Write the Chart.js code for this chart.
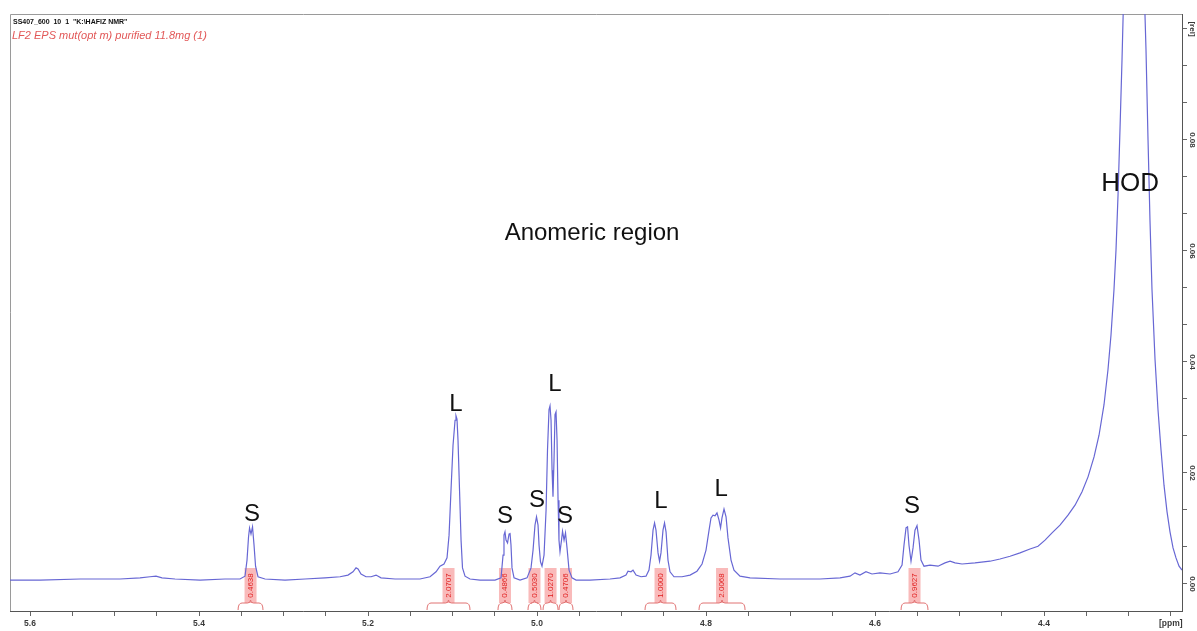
<!DOCTYPE html>
<html>
<head>
<meta charset="UTF-8">
<title>SS407_600 - anomeric region</title>
<style>
  body { margin: 0; background: #fff; }
  #wrap { width: 1197px; height: 631px; }
</style>
</head>
<body>
<div id="wrap"><canvas id="spec" width="1197" height="631"></canvas></div>
<script src="https://cdn.jsdelivr.net/npm/chart.js"></script>
<script>
// 1H trace, pairs of [shift (ppm), intensity (rel)]
const trace = [
  [5.6237,0.0007],[5.5882,0.0007],[5.5408,0.0009],[5.4935,0.0009],[5.4698,0.0011],[5.4580,0.0013],
  [5.4509,0.0014],[5.4438,0.0011],[5.4284,0.0009],[5.3988,0.0007],[5.3692,0.0009],[5.3515,0.0009],
  [5.3456,0.0014],[5.3432,0.0043],[5.3414,0.0085],[5.3402,0.0101],[5.3385,0.0090],[5.3367,0.0103],
  [5.3349,0.0070],[5.3331,0.0032],[5.3302,0.0013],[5.3219,0.0009],[5.2982,0.0007],[5.2746,0.0009],
  [5.2509,0.0011],[5.2331,0.0013],[5.2237,0.0016],[5.2178,0.0022],[5.2142,0.0029],[5.2118,0.0027],
  [5.2083,0.0018],[5.2024,0.0013],[5.1964,0.0013],[5.1905,0.0016],[5.1846,0.0011],[5.1680,0.0009],
  [5.1503,0.0009],[5.1385,0.0009],[5.1266,0.0013],[5.1195,0.0022],[5.1148,0.0032],[5.1101,0.0036],
  [5.1065,0.0047],[5.1041,0.0088],[5.1018,0.0169],[5.0994,0.0250],[5.0970,0.0295],[5.0959,0.0303],
  [5.0947,0.0297],[5.0935,0.0259],[5.0917,0.0169],[5.0899,0.0079],[5.0882,0.0029],[5.0852,0.0014],
  [5.0793,0.0009],[5.0675,0.0007],[5.0497,0.0007],[5.0426,0.0011],[5.0402,0.0052],[5.0391,0.0088],
  [5.0379,0.0094],[5.0367,0.0079],[5.0349,0.0074],[5.0331,0.0090],[5.0320,0.0092],[5.0308,0.0070],
  [5.0296,0.0029],[5.0272,0.0011],[5.0201,0.0007],[5.0118,0.0011],[5.0071,0.0029],[5.0047,0.0061],
  [5.0024,0.0106],[5.0006,0.0121],[4.9988,0.0106],[4.9976,0.0070],[4.9959,0.0040],[4.9941,0.0032],
  [4.9917,0.0052],[4.9893,0.0133],[4.9876,0.0241],[4.9858,0.0314],[4.9846,0.0321],[4.9834,0.0295],
  [4.9822,0.0205],[4.9811,0.0157],[4.9799,0.0223],[4.9787,0.0305],[4.9775,0.0310],[4.9763,0.0259],
  [4.9751,0.0151],[4.9740,0.0079],[4.9728,0.0058],[4.9710,0.0079],[4.9698,0.0095],[4.9680,0.0079],
  [4.9663,0.0092],[4.9645,0.0065],[4.9621,0.0025],[4.9586,0.0011],[4.9538,0.0007],[4.9373,0.0007],
  [4.9136,0.0009],[4.9018,0.0011],[4.8947,0.0016],[4.8923,0.0023],[4.8888,0.0022],[4.8864,0.0025],
  [4.8828,0.0016],[4.8769,0.0013],[4.8710,0.0014],[4.8675,0.0025],[4.8651,0.0052],[4.8627,0.0097],
  [4.8609,0.0110],[4.8592,0.0097],[4.8568,0.0056],[4.8550,0.0041],[4.8533,0.0056],[4.8509,0.0097],
  [4.8491,0.0110],[4.8473,0.0094],[4.8450,0.0043],[4.8426,0.0022],[4.8379,0.0013],[4.8284,0.0013],
  [4.8189,0.0016],[4.8107,0.0023],[4.8047,0.0036],[4.8000,0.0061],[4.7964,0.0097],[4.7941,0.0119],
  [4.7917,0.0124],[4.7893,0.0123],[4.7870,0.0128],[4.7846,0.0115],[4.7828,0.0101],[4.7811,0.0119],
  [4.7787,0.0135],[4.7763,0.0121],[4.7740,0.0083],[4.7704,0.0043],[4.7669,0.0025],[4.7598,0.0014],
  [4.7479,0.0011],[4.7124,0.0009],[4.6651,0.0009],[4.6414,0.0011],[4.6296,0.0014],[4.6237,0.0020],
  [4.6178,0.0016],[4.6107,0.0022],[4.6036,0.0018],[4.5941,0.0020],[4.5822,0.0018],[4.5728,0.0022],
  [4.5680,0.0034],[4.5657,0.0070],[4.5633,0.0101],[4.5615,0.0103],[4.5598,0.0070],[4.5574,0.0041],
  [4.5550,0.0065],[4.5527,0.0097],[4.5503,0.0105],[4.5479,0.0079],[4.5456,0.0043],[4.5420,0.0032],
  [4.5349,0.0034],[4.5254,0.0032],[4.5172,0.0038],[4.5112,0.0041],[4.5053,0.0038],[4.4970,0.0036],
  [4.4817,0.0038],[4.4639,0.0041],[4.4521,0.0045],[4.4402,0.0050],[4.4284,0.0056],[4.4166,0.0063],
  [4.4071,0.0068],[4.3988,0.0079],[4.3905,0.0092],[4.3811,0.0106],[4.3716,0.0124],[4.3633,0.0142],
  [4.3550,0.0166],[4.3479,0.0193],[4.3408,0.0229],[4.3349,0.0268],[4.3290,0.0323],[4.3243,0.0386],
  [4.3207,0.0449],[4.3172,0.0530],[4.3148,0.0602],[4.3124,0.0701],[4.3101,0.0818],[4.3077,0.0944],
  [4.3053,0.1088],[4.3018,0.1600],[4.2947,0.4500],[4.2876,0.1600],[4.2817,0.1088],[4.2793,0.0962],
  [4.2769,0.0800],[4.2746,0.0656],[4.2722,0.0530],[4.2686,0.0404],[4.2651,0.0314],[4.2615,0.0241],
  [4.2580,0.0178],[4.2544,0.0130],[4.2509,0.0094],[4.2473,0.0065],[4.2438,0.0047],[4.2402,0.0032],
  [4.2367,0.0025]
];

// integrals: region limits (ppm) and the integrated value
const integralFrom = [5.3538, 5.1302, 5.0462, 5.0107, 4.9929, 4.9740, 4.8722, 4.8083, 4.5692];
const integralTo   = [5.3243, 5.0793, 5.0296, 4.9953, 4.9751, 4.9574, 4.8355, 4.7538, 4.5373];
const integralText = ['0.4638', '2.0707', '0.4866', '0.5030', '1.0270', '0.4706', '1.0000', '2.0068', '0.9627'];

// peak assignments
const peakText = ['S', 'L', 'S', 'S', 'L', 'S', 'L', 'L', 'S'];
const peakPpm  = [5.3373, 5.0959, 5.0379, 5.0001, 4.9787, 4.9669, 4.8533, 4.7822, 4.5562];
const peakRel  = [0.0126, 0.0324, 0.0121, 0.0151, 0.0359, 0.0121, 0.0148, 0.0171, 0.0139];

// free notes
const noteText = ['Anomeric region', 'HOD'];
const notePpm  = [4.9349, 4.2982];
const noteRel  = [0.0631, 0.0721];

// axes
const xTickPpm  = [5.6, 5.4, 5.2, 5.0, 4.8, 4.6, 4.4];
const xTickText = ['5.6', '5.4', '5.2', '5.0', '4.8', '4.6', '4.4'];
const xUnit = '[ppm]', xUnitAt = 4.25;
const yTickRel  = [0, 0.02, 0.04, 0.06, 0.08];
const yTickText = ['0.00', '0.02', '0.04', '0.06', '0.08'];
const yUnit = '[rel]', yUnitAt = 0.10;

const titleLine = 'SS407_600  10  1  "K:\\HAFIZ NMR"';
const sampleLine = 'LF2 EPS mut(opt m) purified 11.8mg (1)';

const near = (a, b) => Math.abs(a - b) < 1e-6;
const FONT = '"Liberation Sans", Arial, sans-serif';

const decor = {
  id: 'decor',
  beforeDatasetsDraw(chart) {
    const {ctx, chartArea: a, scales: {x}} = chart;
    ctx.save();
    // frame top and left
    ctx.strokeStyle = '#9a9a9a';
    ctx.lineWidth = 1;
    ctx.beginPath();
    ctx.moveTo(a.left + 0.5, a.bottom);
    ctx.lineTo(a.left + 0.5, a.top + 0.5);
    ctx.lineTo(a.right, a.top + 0.5);
    ctx.stroke();

    // integral boxes and brackets
    integralText.forEach((t, i) => {
      const p1 = x.getPixelForValue(integralFrom[i]);
      const p2 = x.getPixelForValue(integralTo[i]);
      const cx = (p1 + p2) / 2;
      const by = a.bottom - 8;
      ctx.fillStyle = 'rgba(245,140,140,0.6)';
      ctx.fillRect(cx - 6, a.bottom - 43, 12, 35);
      ctx.strokeStyle = '#e07272';
      ctx.lineWidth = 1;
      ctx.beginPath();
      ctx.moveTo(p1, a.bottom - 1);
      ctx.quadraticCurveTo(p1, by, p1 + 4, by);
      ctx.lineTo(cx - 3, by);
      ctx.quadraticCurveTo(cx, by, cx, by - 3);
      ctx.quadraticCurveTo(cx, by, cx + 3, by);
      ctx.lineTo(p2 - 4, by);
      ctx.quadraticCurveTo(p2, by, p2, a.bottom - 1);
      ctx.stroke();
      ctx.save();
      ctx.translate(cx, a.bottom - 25.5);
      ctx.rotate(-Math.PI / 2);
      ctx.fillStyle = '#e02020';
      ctx.font = '8px ' + FONT;
      ctx.textAlign = 'center';
      ctx.textBaseline = 'middle';
      ctx.fillText(t, 0, 0);
      ctx.restore();
    });
    ctx.restore();
  },
  afterDraw(chart) {
    const {ctx, chartArea: a, scales: {x, y}} = chart;
    ctx.save();
    // rotated y labels on the right
    ctx.fillStyle = '#3a3a3a';
    ctx.font = 'bold 8px ' + FONT;
    ctx.textAlign = 'center';
    ctx.textBaseline = 'middle';
    const ylab = yTickText.map((t, i) => [yTickRel[i], t]).concat([[yUnitAt, yUnit]]);
    ylab.forEach(([v, t]) => {
      ctx.save();
      ctx.translate(a.right + 10, y.getPixelForValue(v));
      ctx.rotate(Math.PI / 2);
      ctx.fillText(t, 0, 0);
      ctx.restore();
    });

    // assignments
    ctx.fillStyle = '#111';
    ctx.font = '24px ' + FONT;
    peakText.forEach((t, i) => {
      ctx.fillText(t, x.getPixelForValue(peakPpm[i]), y.getPixelForValue(peakRel[i]));
    });
    noteText.forEach((t, i) => {
      ctx.font = (i === 1 ? '26px ' : '24px ') + FONT;
      ctx.fillText(t, x.getPixelForValue(notePpm[i]), y.getPixelForValue(noteRel[i]));
    });

    // experiment header
    ctx.textAlign = 'left';
    ctx.fillStyle = '#111';
    ctx.font = 'bold 7px ' + FONT;
    ctx.fillText(titleLine, a.left + 3, a.top + 8);
    ctx.fillStyle = '#e25858';
    ctx.font = 'italic 11px ' + FONT;
    ctx.fillText(sampleLine, a.left + 2, a.top + 22);
    ctx.restore();
  }
};

new Chart(document.getElementById('spec'), {
  type: 'line',
  data: {
    datasets: [{
      data: trace.map(([p, r]) => ({x: p, y: r})),
      borderColor: '#6767d4',
      borderWidth: 1.2,
      pointRadius: 0,
      tension: 0,
      fill: false
    }]
  },
  options: {
    responsive: false,
    animation: false,
    events: [],
    layout: {padding: {left: 10, top: 14, right: 0, bottom: 0}},
    plugins: {legend: {display: false}, tooltip: {enabled: false}},
    scales: {
      x: {
        type: 'linear',
        reverse: true,
        min: 4.2367,
        max: 5.6237,
        afterFit(s) { s.height = 20; },
        afterBuildTicks(s) {
          const t = [];
          for (let k = 0; k <= 27; k++) t.push({value: Math.round((5.6 - k * 0.05) * 100) / 100});
          s.ticks = t;
        },
        grid: {drawOnChartArea: false, drawTicks: true, tickLength: 5, color: '#666'},
        border: {color: '#555', width: 1},
        ticks: {
          autoSkip: false,
          maxRotation: 0,
          padding: 3,
          color: '#3a3a3a',
          font: {family: FONT, size: 8.5, weight: 'bold'},
          callback(v) {
            const i = xTickPpm.findIndex(p => near(p, v));
            if (i >= 0) return xTickText[i];
            return near(v, xUnitAt) ? xUnit : '';
          }
        }
      },
      y: {
        type: 'linear',
        position: 'right',
        min: -0.00487,
        max: 0.1027,
        afterFit(s) { s.width = 15; },
        afterBuildTicks(s) {
          const t = [];
          for (let k = 0; k <= 15; k++) t.push({value: k * 0.02 / 3});
          s.ticks = t;
        },
        grid: {drawOnChartArea: false, drawTicks: true, tickLength: 5, color: '#666'},
        border: {color: '#555', width: 1},
        ticks: {display: false}
      }
    }
  },
  plugins: [decor]
});
</script>
</body>
</html>
